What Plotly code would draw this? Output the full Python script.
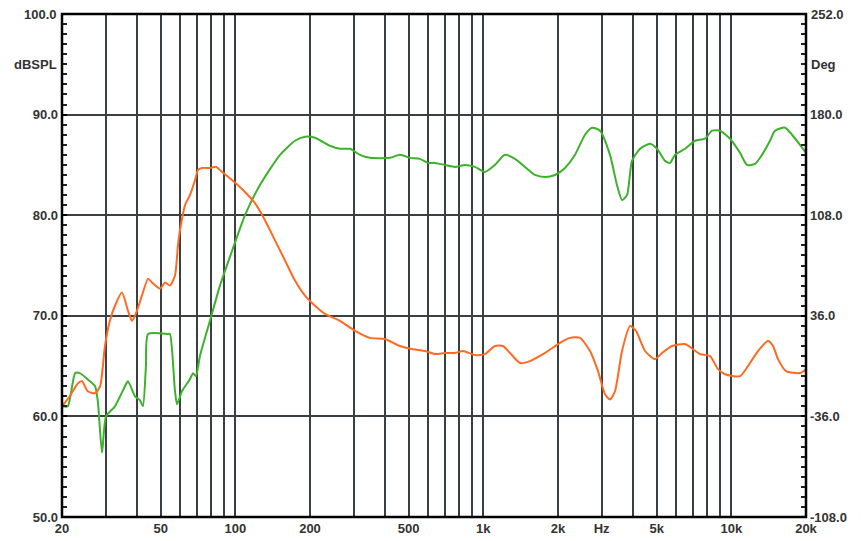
import plotly.graph_objects as go

# Green curve (SPL, left axis dB)
spl_freq = [20, 21.1, 22.6, 23.6, 25.9, 27.2, 27.9, 29.0, 30.1, 32.7, 35.9, 36.9, 39.4, 41.3, 42.4, 43.6,
            44.5, 53.5, 54.5, 57.1, 58.2, 60.9, 65.6, 67.5, 69.4, 72.0, 79.0, 86.7, 97.8, 109.4, 125.7,
            151.4, 174, 190.9, 209.4, 240.7, 264.3, 290, 318, 349, 420, 461, 506, 555, 598, 638, 700,
            768, 843, 925, 1015, 1114, 1222, 1342, 1472, 1615, 1773, 1945, 2134, 2342, 2570, 2743, 2954,
            3241, 3458, 3624, 3797, 3976, 4284, 4700, 5017, 5403, 5658, 5927, 6502, 7138, 7832, 8357,
            9003, 9878, 10838, 11564, 12457, 13292, 14319, 15000, 16459, 17560, 18915, 20000]
spl_db = [61.0, 61.0, 64.3, 64.3, 63.5, 63.0, 61.5, 56.4, 60.0, 61.0, 63.0, 63.5, 62.0, 61.6, 61.0, 65.0,
          68.2, 68.2, 68.2, 62.5, 61.2, 62.5, 63.7, 64.3, 64.0, 66.0, 69.5, 73.0, 76.7, 80.0, 83.0,
          86.0, 87.4, 87.8, 87.7, 86.9, 86.6, 86.6, 86.0, 85.7, 85.7, 86.0, 85.7, 85.6, 85.2, 85.2, 85.0,
          84.8, 85.0, 84.8, 84.3, 85.0, 86.0, 85.6, 84.8, 84.0, 83.8, 84.0, 84.7, 86.0, 88.0, 88.7, 88.4,
          86.0, 83.0, 81.5, 82.0, 85.4, 86.6, 87.1, 86.6, 85.4, 85.2, 86.0, 86.6, 87.4, 87.6, 88.4,
          88.4, 87.6, 86.2, 85.0, 85.1, 86.0, 87.4, 88.4, 88.7, 88.0, 87.0, 86.2]

# Orange curve (phase, right axis degrees)
ph_freq = [20, 21.5, 23.2, 24.1, 25.4, 27.2, 28.5, 29.8, 31.2, 32.7, 34.9, 36.9, 38.3, 40.1, 42.0, 44.5,
           46.1, 49.7, 52.0, 54.5, 57.1, 58.7, 59.8, 62.7, 65.6, 68.8, 70.7, 73.4, 79.0, 83.6, 88.4,
           96.9, 107.4, 120, 131.7, 144.5, 158.6, 174, 190.9, 209.4, 229.8, 264.3, 304, 349, 401, 461,
           515, 582, 638, 700, 768, 828, 925, 1015, 1114, 1200, 1281, 1406, 1542, 1773, 2037, 2235,
           2453, 2692, 2900, 3094, 3241, 3395, 3624, 3904, 4127, 4486, 4923, 5254, 5764, 6502, 7477,
           8204, 8837, 9429, 10838, 11890, 12808, 14055, 14722, 15420, 16614, 18915, 20000]
ph_deg = [-28.8, -21.6, -12.2, -10.8, -18.0, -19.4, -14.4, 14.4, 32.4, 43.2, 52.6, 39.6, 32.4, 39.6, 50.4, 62.6,
          59.8, 55.4, 59.8, 57.6, 64.8, 86.4, 97.2, 115.2, 122.4, 133.2, 140.4, 141.8, 141.8, 142.6, 139.0,
          133.2, 126.0, 116.6, 104.4, 90.0, 75.6, 61.2, 50.4, 43.2, 37.4, 32.4, 25.2, 20.2, 19.4, 14.4,
          12.2, 10.8, 8.6, 9.4, 9.4, 10.8, 7.9, 8.6, 14.4, 14.4, 9.4, 2.2, 3.6, 9.4, 16.6, 20.2,
          20.2, 10.8, -3.6, -20.2, -23.8, -18.0, 10.8, 28.8, 25.2, 10.8, 5.0, 9.4, 14.4, 15.8, 8.6,
          7.2, -2.2, -5.8, -7.2, 2.2, 10.8, 18.0, 14.4, 5.0, -3.6, -5.0, -2.2]

x_grid = [20, 30, 40, 50, 60, 70, 80, 90, 100, 200, 300, 400, 500, 600, 700, 800, 900, 1000,
          2000, 3000, 4000, 5000, 6000, 7000, 8000, 9000, 10000, 20000]
x_labels = ["20", "", "", "50", "", "", "", "", "100", "200", "", "", "500", "", "", "", "", "1k",
            "2k", "Hz", "", "5k", "", "", "", "", "10k", "20k"]
y_left_ticks = [50, 60, 70, 80, 90, 100]
y_right_ticks = [-108, -36, 36, 108, 180, 252]

GRID = "#3a3f44"
TXT = "#333333"
FONT = "Liberation Sans"
TF = dict(family=FONT, size=13, color=TXT, weight="bold")

fig = go.Figure()
fig.add_trace(go.Scatter(x=ph_freq, y=ph_deg, mode="lines", yaxis="y2",
                         line=dict(color="#ff6a22", width=2, shape="spline", smoothing=0.6),
                         showlegend=False, hoverinfo="skip"))
fig.add_trace(go.Scatter(x=spl_freq, y=spl_db, mode="lines",
                         line=dict(color="#3cb22a", width=2, shape="spline", smoothing=0.6),
                         showlegend=False, hoverinfo="skip"))

# top tick labels are drawn as annotations (plotly drops them when they touch the figure edge)
left_top = y_left_ticks[-1]
right_top = y_right_ticks[-1]

# page body has an 8px margin: shrink figure so plot lands where the reference has it
fig.update_layout(
    width=853, height=533,
    margin=dict(l=54, r=55, t=6, b=24, autoexpand=False),
    paper_bgcolor="white", plot_bgcolor="white",
    font=dict(family=FONT, size=13, color=TXT),
    xaxis=dict(type="log", range=[1.30103, 4.30103], tickvals=x_grid, ticktext=x_labels,
               showgrid=True, gridcolor=GRID, gridwidth=1.5, ticks="", zeroline=False,
               tickfont=TF, showline=False, ticklabelstandoff=2, automargin=False),
    yaxis=dict(range=[50, 100], tickvals=y_left_ticks, ticktext=[f"{v:.1f}" for v in y_left_ticks],
               showgrid=True, gridcolor=GRID, gridwidth=1.5, zeroline=False, automargin=False,
               ticks="inside", ticklen=5, tickcolor="black", tickwidth=1.5,
               minor=dict(dtick=1, tick0=50, ticks="inside", ticklen=5, tickcolor="#222", tickwidth=1.5,
                          showgrid=False),
               tickfont=TF, ticklabelstandoff=3),
    yaxis2=dict(range=[-108, 252], overlaying="y", side="right", tickvals=y_right_ticks,
                ticktext=[f"{v:.1f}" for v in y_right_ticks], showgrid=False, zeroline=False,
                automargin=False,
                ticks="inside", ticklen=5, tickcolor="black", tickwidth=1.5,
                minor=dict(dtick=7.2, tick0=-108, ticks="inside", ticklen=5, tickcolor="#222", tickwidth=1.5),
                tickfont=TF, ticklabelstandoff=3),
    shapes=[dict(type="rect", xref="paper", yref="paper", x0=0, x1=1, y0=0, y1=1,
                 line=dict(color="black", width=2.5), layer="above")],
    annotations=[
        dict(text="dBSPL", xref="paper", yref="y", x=0, y=95, xanchor="right", yanchor="middle",
             xshift=-3, showarrow=False, font=TF),
        dict(text="Deg", xref="paper", yref="y", x=1, y=95, xanchor="left", yanchor="middle",
             xshift=3, showarrow=False, font=TF),
        dict(text=f"{left_top:.1f}", xref="paper", yref="y", x=0, y=left_top, xanchor="right",
             yanchor="middle", xshift=-3, showarrow=False, font=TF),
        dict(text=f"{right_top:.1f}", xref="paper", yref="y2", x=1, y=right_top, xanchor="left",
             yanchor="middle", xshift=3, showarrow=False, font=TF),
    ],
)

fig.write_html("out.html")
